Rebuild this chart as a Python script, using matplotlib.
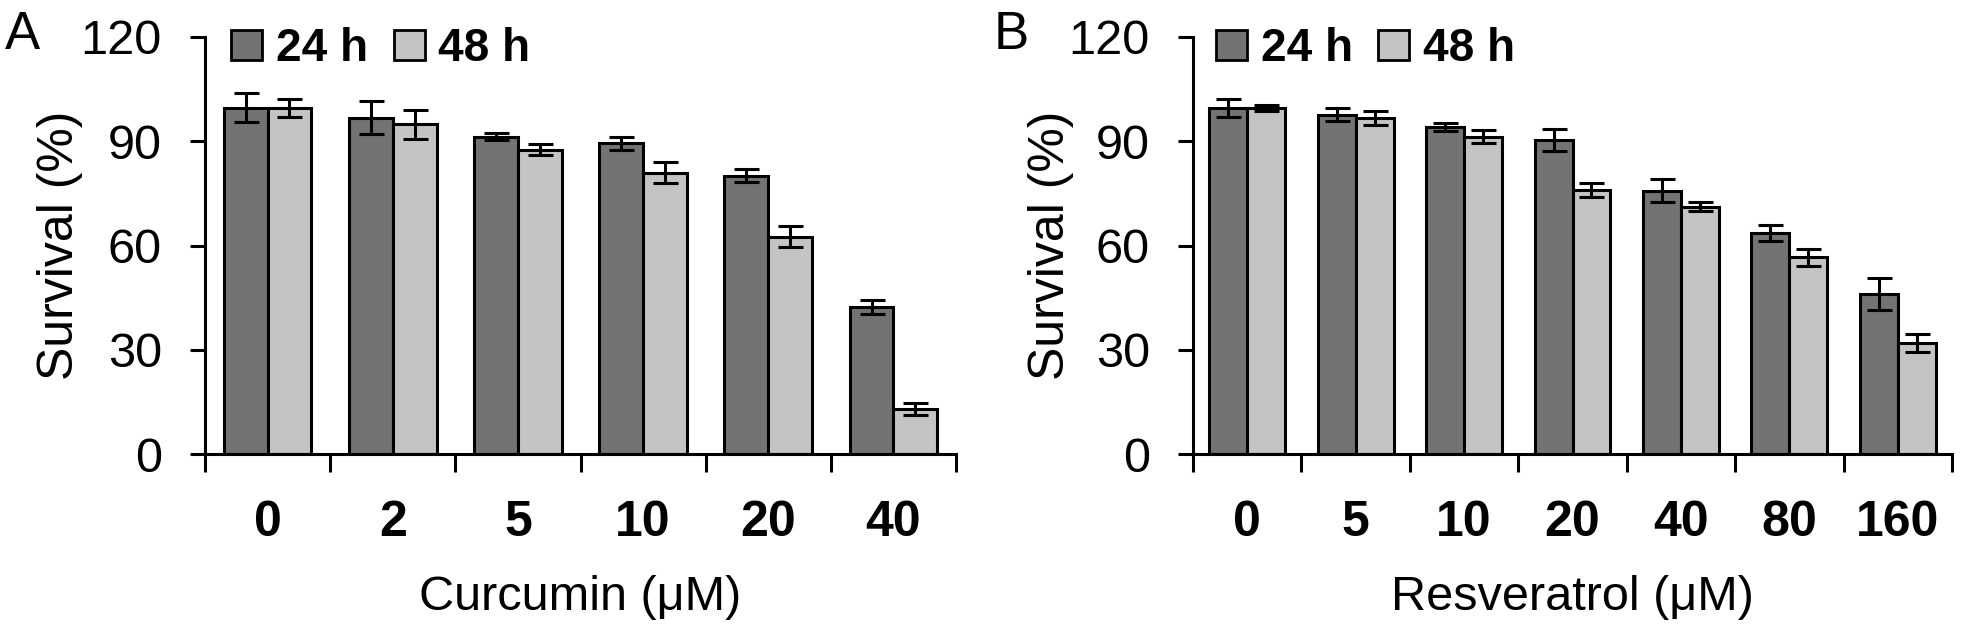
import numpy as np
import matplotlib
matplotlib.use("Agg")
import matplotlib.pyplot as plt
from matplotlib.patches import Patch

curcumin_doses = ["0", "2", "5", "10", "20", "40"]
curcumin_24h = [99.7, 96.8, 91.3, 89.4, 80.1, 42.2]
curcumin_24h_err = [4.2, 4.8, 1.0, 1.8, 1.9, 2.0]
curcumin_48h = [99.7, 94.9, 87.6, 81.0, 62.5, 13.0]
curcumin_48h_err = [2.6, 4.2, 1.6, 2.9, 3.0, 1.7]

resveratrol_doses = ["0", "5", "10", "20", "40", "80", "160"]
resveratrol_24h = [99.6, 97.6, 94.1, 90.3, 75.8, 63.6, 46.0]
resveratrol_24h_err = [2.6, 1.9, 1.2, 3.2, 3.2, 2.4, 4.6]
resveratrol_48h = [99.6, 96.8, 91.3, 76.0, 71.2, 56.6, 32.0]
resveratrol_48h_err = [0.8, 2.0, 1.9, 2.0, 1.4, 2.5, 2.6]

DARK = "#737373"
LIGHT = "#c4c4c4"
LW = 2.2

plt.rcParams["font.family"] = ["Liberation Sans", "DejaVu Sans"]


def draw_panel(ax, doses, v24, e24, v48, e48, xlabel, ylabel_x, legend_x):
    x = np.arange(len(doses))
    w = 0.35
    kw = dict(edgecolor="black", linewidth=LW, capsize=9, ecolor="black",
              error_kw=dict(elinewidth=LW, capthick=LW))
    ax.bar(x - w / 2, v24, w, yerr=e24, color=DARK, **kw)
    ax.bar(x + w / 2, v48, w, yerr=e48, color=LIGHT, **kw)

    ax.set_xlim(-0.5, len(doses) - 0.5)
    ax.set_ylim(0, 120)
    ax.set_yticks([0, 30, 60, 90, 120])
    ax.tick_params(axis="y", labelsize=35, length=11, width=LW, pad=20)

    # ticks on the group borders, dose labels centred under each group
    ax.set_xticks(np.arange(len(doses) + 1) - 0.5)
    ax.set_xticklabels([])
    ax.set_xticks(x, minor=True)
    ax.set_xticklabels(doses, minor=True, fontsize=36, fontweight="bold")
    ax.tick_params(axis="x", which="major", length=13, width=LW)
    ax.tick_params(axis="x", which="minor", length=0, pad=33)

    for side in ("top", "right"):
        ax.spines[side].set_visible(False)
    for side in ("left", "bottom"):
        ax.spines[side].set_linewidth(LW)

    ax.set_ylabel("Survival (%)", fontsize=36, va="baseline")
    ax.yaxis.set_label_coords(ylabel_x, 0.5)
    ax.set_xlabel(xlabel, fontsize=35, va="baseline")
    ax.xaxis.set_label_coords(0.5, -0.374)

    handles = [Patch(facecolor=DARK, edgecolor="black", linewidth=2.0, label="24 h"),
               Patch(facecolor=LIGHT, edgecolor="black", linewidth=2.0, label="48 h")]
    ax.legend(handles=handles, loc="center left", bbox_to_anchor=(legend_x, 0.971), ncol=2,
              frameon=False, prop=dict(size=33, weight="bold"), handlelength=0.68,
              handleheight=0.62, handletextpad=0.3, columnspacing=0.55,
              borderpad=0, borderaxespad=0)


fig = plt.figure(figsize=(19.66, 6.39), dpi=100)
ax_a = fig.add_axes([205 / 1966, 0.2895, 751 / 1966, 0.6526])
ax_b = fig.add_axes([1193 / 1966, 0.2895, 759 / 1966, 0.6526])

draw_panel(ax_a, curcumin_doses, curcumin_24h, curcumin_24h_err,
           curcumin_48h, curcumin_48h_err, "Curcumin (\u03bcM)", -0.176, 0.035)
draw_panel(ax_b, resveratrol_doses, resveratrol_24h, resveratrol_24h_err,
           resveratrol_48h, resveratrol_48h_err, "Resveratrol (\u03bcM)", -0.170, 0.03)

fig.text(0.0025, 0.945, "A", fontsize=38, va="center", ha="left")
fig.text(0.5056, 0.945, "B", fontsize=38, va="center", ha="left")

fig.savefig("out.png", dpi=100)
